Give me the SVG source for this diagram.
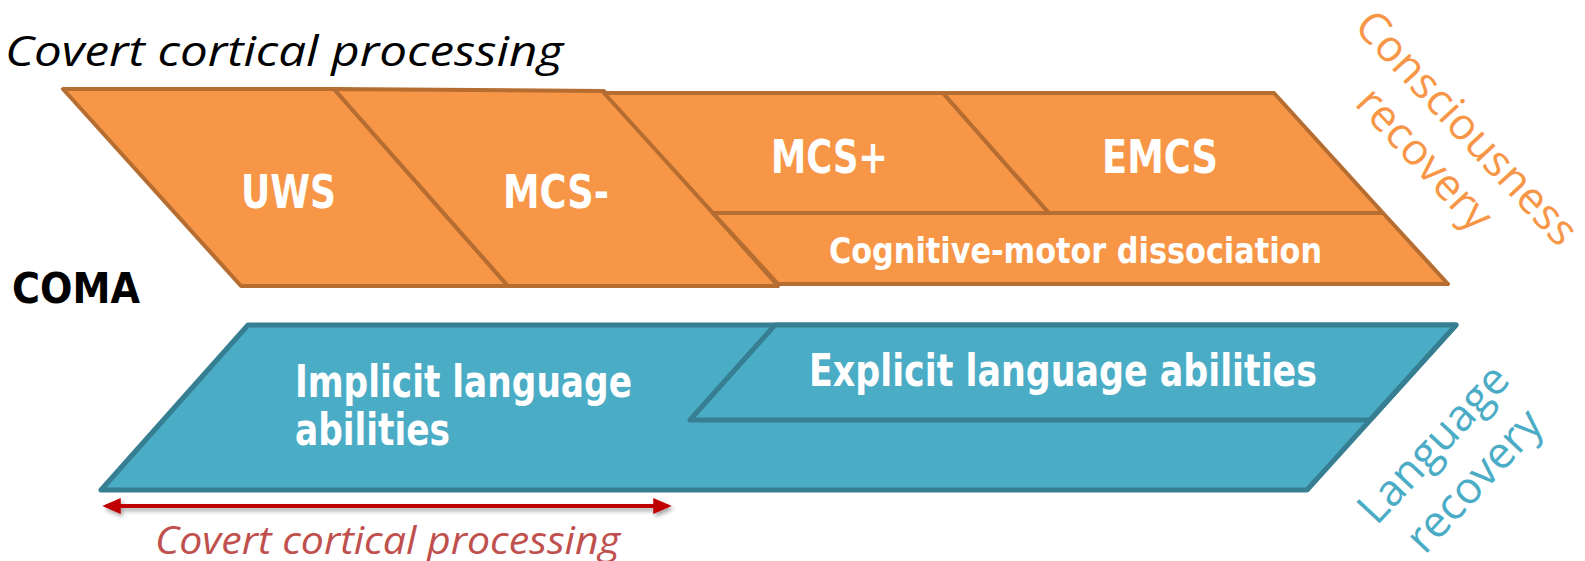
<svg xmlns="http://www.w3.org/2000/svg" width="1585" height="561" viewBox="0 0 1585 561">
  <style>
    .stage { fill: #F79646; stroke: #B66D31; stroke-width: 4; stroke-linejoin: round; }
    .lang { fill: #4BACC6; stroke: #367E92; stroke-width: 5; stroke-linejoin: round; }
    .lbl { font-family: "Liberation Sans Narrow", "DejaVu Sans Condensed", "Liberation Sans", sans-serif; font-weight: bold; fill: #FFFFFF; }
    .ital { font-family: "Open Sans", "DejaVu Sans", sans-serif; font-style: italic; }
    .side { font-family: "Open Sans", "DejaVu Sans", sans-serif; font-size: 44px; text-anchor: middle; }
  </style>
  <defs>
    <marker id="head" viewBox="0 0 10 10" refX="8" refY="5" markerWidth="4.6" markerHeight="4" orient="auto-start-reverse" markerUnits="strokeWidth" preserveAspectRatio="none">
      <path d="M0,0 L10,5 L0,10 Z" fill="#C00000"/>
    </marker>
    <filter id="shade" filterUnits="userSpaceOnUse" x="80" y="480" width="620" height="60">
      <feDropShadow dx="2" dy="3" stdDeviation="2" flood-color="#000" flood-opacity="0.35"/>
    </filter>
  </defs>

  <!-- heading -->
  <text id="title" class="ital" x="5" y="66" font-size="42" fill="#000" textLength="558" lengthAdjust="spacingAndGlyphs">Covert cortical processing</text>

  <g id="coma">
    <text class="lbl" x="12" y="303" font-size="42" style="fill:#000" textLength="128" lengthAdjust="spacingAndGlyphs">COMA</text>
  </g>

  <!-- consciousness stages -->
  <g id="uws">
    <polygon class="stage" points="63,89 334,89 508,286 241,286"/>
    <text class="lbl" x="241" y="208" font-size="46" textLength="95" lengthAdjust="spacingAndGlyphs">UWS</text>
  </g>
  <g id="mcs-minus">
    <polygon class="stage" points="334,89 604,91 778,286 508,286"/>
    <text class="lbl" x="503" y="208" font-size="46" textLength="106" lengthAdjust="spacingAndGlyphs">MCS-</text>
  </g>
  <g id="cmd">
    <polygon class="stage" points="713,213 1383,213 1448,284 778,284"/>
    <text class="lbl" x="829" y="263" font-size="36" textLength="493" lengthAdjust="spacingAndGlyphs">Cognitive-motor dissociation</text>
  </g>
  <g id="mcs-plus">
    <polygon class="stage" points="604,93 943,93 1049,213 713,213"/>
    <text class="lbl" x="771" y="173" font-size="46" textLength="117" lengthAdjust="spacingAndGlyphs">MCS+</text>
  </g>
  <g id="emcs">
    <polygon class="stage" points="943,93 1274,93 1383,213 1049,213"/>
    <text class="lbl" x="1102" y="173" font-size="46" textLength="116" lengthAdjust="spacingAndGlyphs">EMCS</text>
  </g>

  <!-- language abilities -->
  <g id="implicit">
    <polygon class="lang" points="248,325 1456,325 1307,490 101,490"/>
    <text class="lbl" x="295" y="397" font-size="44" textLength="337" lengthAdjust="spacingAndGlyphs">Implicit language</text>
    <text class="lbl" x="295" y="445" font-size="44" textLength="155" lengthAdjust="spacingAndGlyphs">abilities</text>
  </g>
  <g id="explicit">
    <polygon class="lang" points="775,325 1456,325 1370,420 690,420"/>
    <text class="lbl" x="809" y="386" font-size="44" textLength="508" lengthAdjust="spacingAndGlyphs">Explicit language abilities</text>
  </g>

  <!-- axis labels -->
  <g id="consciousness-recovery" transform="translate(1447,149) rotate(47)">
    <text class="side" fill="#F79646"><tspan x="-2" y="-14">Consciousness</tspan><tspan x="-8" y="38">recovery</tspan></text>
  </g>
  <g id="language-recovery" transform="translate(1458,467) rotate(-47)">
    <text class="side" fill="#4BACC6"><tspan x="0" y="-19">Language</tspan><tspan x="1" y="36">recovery</tspan></text>
  </g>

  <!-- span of covert processing -->
  <g id="connectors">
    <line x1="106" y1="506" x2="668" y2="506" stroke="#C00000" stroke-width="4" marker-start="url(#head)" marker-end="url(#head)" filter="url(#shade)"/>
  </g>
  <g id="covert-span">
    <text class="ital" x="155" y="554" font-size="38" fill="#C0504D" textLength="465" lengthAdjust="spacingAndGlyphs">Covert cortical processing</text>
  </g>
</svg>
